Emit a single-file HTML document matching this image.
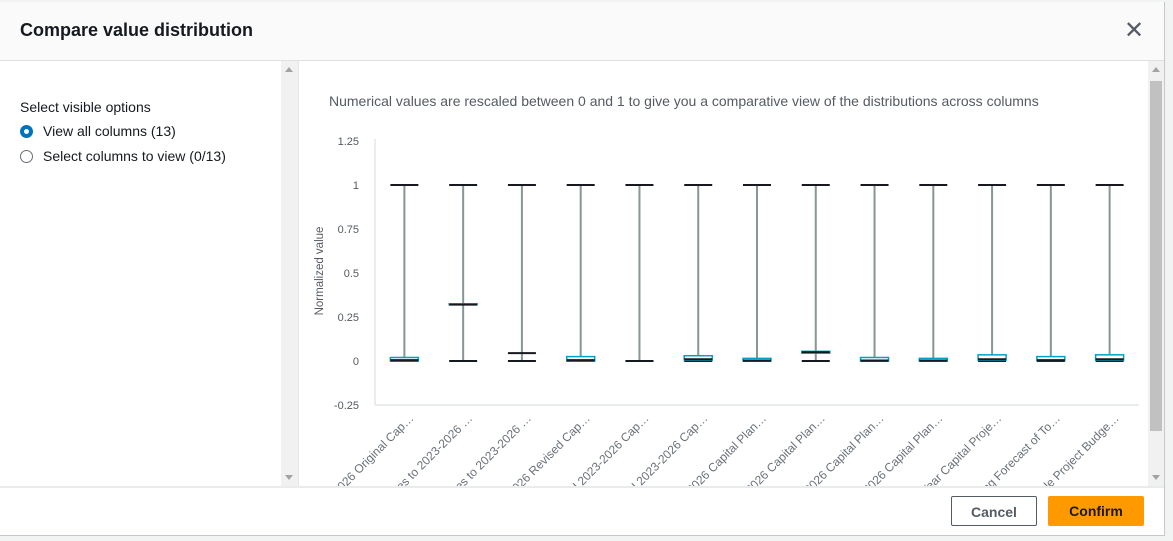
<!DOCTYPE html>
<html><head><meta charset="utf-8"><style>
body{margin:0;width:1173px;height:541px;background:#f2f3f3;font-family:"Liberation Sans","DejaVu Sans",sans-serif;overflow:hidden;position:relative}
#modal{position:absolute;left:0;top:2px;width:1164px;height:533px;background:#fff;border-right:1px solid #c6c6cd;border-bottom:1px solid #c6c6cd}
#hdr{position:absolute;left:0;top:0;width:1164px;height:58px;background:#fafafa;border-bottom:1px solid #e0e0e0}
#title{position:absolute;left:20px;top:18px;font-size:18px;font-weight:bold;color:#16191f}
#close{position:absolute;left:1124px;top:14px;font-size:24px;color:#545b64}
#left{position:absolute;left:0;top:59px;width:282px;height:425px}
#lscroll{position:absolute;left:281px;top:59px;width:17px;height:425px;background:#f1f1f1}
.lab{position:absolute;font-size:14px;color:#16191f}
.radio{position:absolute;width:13px;height:13px;border-radius:50%;box-sizing:border-box}
#chartpane{position:absolute;left:298px;top:59px;width:849px;height:425px;overflow:hidden;border-left:1px solid #e6e6e6}
#rscroll{position:absolute;left:1148px;top:59px;width:16px;height:425px;background:#f1f1f1}
#thumb{position:absolute;left:2px;top:20px;width:12px;height:350px;background:#c1c1c1}
#footer{position:absolute;left:0;top:484px;width:1164px;height:2px;background:#e9ebed}
.btn{position:absolute;top:494px;height:30px;border-radius:2px;font-size:14px;font-weight:bold;text-align:center;line-height:30px;box-sizing:border-box}
</style></head><body>
<div id="modal">
<div id="hdr">
<div id="title">Compare value distribution</div>
<div id="close">✕</div>
</div>
<div id="left">
<div class="lab" style="left:20px;top:38px">Select visible options</div>
<div class="radio" style="left:20px;top:64px;border:4px solid #0073bb;background:#fff"></div>
<div class="lab" style="left:43px;top:62px">View all columns (13)</div>
<div class="radio" style="left:20px;top:89px;border:1px solid #687078"></div>
<div class="lab" style="left:43px;top:87px">Select columns to view (0/13)</div>
</div>
<div id="lscroll"><div style="position:absolute;left:4px;top:6px;border:4px solid transparent;border-bottom:5px solid #a3a3a3;border-top:0"></div><div style="position:absolute;left:4px;bottom:6px;border:4px solid transparent;border-top:5px solid #a3a3a3;border-bottom:0"></div></div>
<div id="chartpane">
<svg id="chart" width="849" height="425"></svg>
</div>
<div id="rscroll"><div id="thumb"></div><div style="position:absolute;left:4px;top:6px;border:4px solid transparent;border-bottom:5px solid #a3a3a3;border-top:0"></div><div style="position:absolute;left:4px;bottom:6px;border:4px solid transparent;border-top:5px solid #a3a3a3;border-bottom:0"></div></div>
<div id="footer"></div>
<div class="btn" style="left:951px;width:86px;border:1px solid #545b64;color:#545b64;background:#fff">Cancel</div>
<div class="btn" style="left:1048px;width:96px;background:#ff9900;color:#16191f">Confirm</div>
</div>
<script>
const categories=["2023-2026 Original Cap…","Changes to 2023-2026 …","Changes to 2023-2026 …","2023-2026 Revised Cap…","Approved 2023-2026 Cap…","Revised 2023-2026 Cap…","2023-2026 Capital Plan…","2023-2026 Capital Plan…","2023-2026 Capital Plan…","2023-2026 Capital Plan…","Multi-Year Capital Proje…","Remaining Forecast of To…","Available Project Budge…"];
const mins=[0,0,0,0,0,0,0,0,0,0,0,0,0];
const q1s=[0,0.32,0.045,0,0,0.005,0,0.045,0,0,0.005,0.003,0.005];
const medians=[0.005,0.32,0.045,0.005,0,0.01,0.003,0.05,0.003,0.003,0.01,0.005,0.01];
const q3s=[0.02,0.325,0.045,0.025,0,0.03,0.015,0.055,0.02,0.015,0.035,0.025,0.035];
const maxs=[1,1,1,1,1,1,1,1,1,1,1,1,1];
const yTicks=[-0.25,0,0.25,0.5,0.75,1,1.25];
const svg=document.getElementById('chart');const NS='http://www.w3.org/2000/svg';
const X0=375-299, X1=1139-299;
function y(v){return (361-61)-v*176;}
function x(i){return X0+(X1-X0)*(i+0.5)/categories.length;}
function mk(t,a,txt){const e=document.createElementNS(NS,t);for(const k in a)e.setAttribute(k,a[k]);if(txt!==undefined)e.textContent=txt;svg.appendChild(e);return e;}
let e=mk('text',{x:30,y:45,'font-size':14,fill:'#545b64'},'Numerical values are rescaled between 0 and 1 to give you a comparative view of the distributions across columns');


e=mk('line',{x1:X0,y1:y(1.25)-2,x2:X0,y2:y(-0.25),stroke:'#d5dbdb','stroke-width':1});


e=mk('line',{x1:X0,y1:y(-0.25),x2:X1,y2:y(-0.25),stroke:'#d5dbdb','stroke-width':1});


yTicks.forEach(t=>{e=mk('text',{x:60,y:y(t)+4,'font-size':11,fill:'#545b64','text-anchor':'end'},String(t));

});
e=mk('text',{x:0,y:0,'font-size':11.5,fill:'#545b64','text-anchor':'middle',transform:`translate(24,${y(0.5)-2}) rotate(-90)`},'Normalized value');


categories.forEach((c,i)=>{
 const cx=x(i),w=14;
 const g=document.createElementNS(NS,'g');svg.appendChild(g);
 
 
 const add=(t,a)=>{const el=document.createElementNS(NS,t);for(const k in a)el.setAttribute(k,a[k]);g.appendChild(el);};
 add('line',{x1:cx,y1:y(maxs[i]),x2:cx,y2:y(q3s[i]),stroke:'#879596','stroke-width':2});
 add('line',{x1:cx,y1:y(q1s[i]),x2:cx,y2:y(mins[i]),stroke:'#879596','stroke-width':2});
 add('line',{x1:cx-w,y1:y(maxs[i]),x2:cx+w,y2:y(maxs[i]),stroke:'#16191f','stroke-width':2});
 add('line',{x1:cx-w,y1:y(mins[i]),x2:cx+w,y2:y(mins[i]),stroke:'#16191f','stroke-width':2});
 const h=y(q1s[i])-y(q3s[i]);
 if(h>0.5)add('rect',{x:cx-w,y:y(q3s[i]),width:2*w,height:h,fill:'#fff',stroke:'#00a1c9','stroke-width':1.5});
 add('line',{x1:cx-w,y1:y(medians[i]),x2:cx+w,y2:y(medians[i]),stroke:'#16191f','stroke-width':2});
 const lab=mk('text',{x:0,y:0,'font-size':12,fill:'#687078','text-anchor':'end',transform:`translate(${cx+10},${y(-0.25)+14}) rotate(-45)`},c);
 
 
});
</script>
</body></html>
